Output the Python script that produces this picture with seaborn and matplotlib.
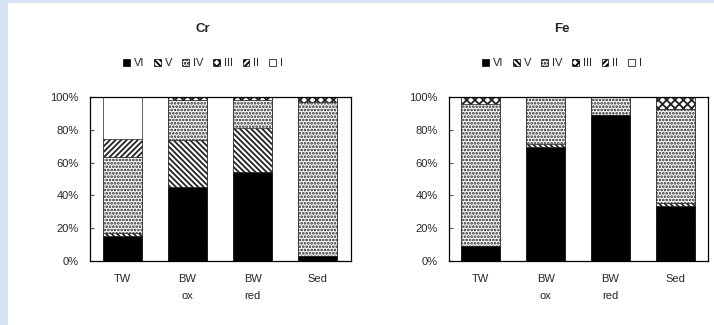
import numpy as np
import pandas as pd
import matplotlib
matplotlib.use("Agg")
import matplotlib.pyplot as plt
import seaborn as sns
from matplotlib.patches import Patch, Rectangle

# Sampling sites and oxidation states (stacked bottom -> top)
sites = ["TW", "BW\nox", "BW\nred", "Sed"]
states = ["VI", "V", "IV", "III", "II", "I"]
yticks = [0, 20, 40, 60, 80, 100]

# Chromium speciation, % of total
cr_VI = [15.4, 45.3, 54.5, 3.2]
cr_V = [1.6, 28.5, 26.4, 0.0]
cr_IV = [46.6, 24.4, 17.3, 93.8]
cr_III = [0.0, 1.8, 1.8, 3.0]
cr_II = [10.8, 0.0, 0.0, 0.0]
cr_I = [25.6, 0.0, 0.0, 0.0]

# Iron speciation, % of total
fe_VI = [9.3, 69.7, 89.0, 33.8]
fe_V = [0.0, 1.8, 0.0, 1.4]
fe_IV = [86.4, 28.5, 11.0, 57.3]
fe_III = [4.3, 0.0, 0.0, 7.5]
fe_II = [0.0, 0.0, 0.0, 0.0]
fe_I = [0.0, 0.0, 0.0, 0.0]

panels = [
    ("Cr", [cr_VI, cr_V, cr_IV, cr_III, cr_II, cr_I]),
    ("Fe", [fe_VI, fe_V, fe_IV, fe_III, fe_II, fe_I]),
]

# fill colour and hatch for each oxidation state
style = {
    "VI": ("black", ""),
    "V": ("white", "\\\\\\\\\\\\"),
    "IV": ("white", "....."),
    "III": ("white", "xxxx"),
    "II": ("white", "//////"),
    "I": ("white", ""),
}

sns.set_style("white")
plt.rcParams["font.family"] = ["Liberation Sans", "DejaVu Sans"]
plt.rcParams["hatch.color"] = "black"
plt.rcParams["hatch.linewidth"] = 1.3

fig = plt.figure(figsize=(7.14, 3.25), dpi=100)
fig.patch.set_facecolor("white")
# pale blue border strips
fig.patches.append(Rectangle((0, 0), 8 / 714, 1, transform=fig.transFigure,
                             facecolor="#d5e3f3", edgecolor="none", zorder=-5))
fig.patches.append(Rectangle((0, 1 - 3 / 325), 1, 3 / 325, transform=fig.transFigure,
                             facecolor="#d5e3f3", edgecolor="none", zorder=-5))

ax_rects = [
    [89.5 / 714, 64 / 325, 261 / 714, 164 / 325],
    [448.5 / 714, 64 / 325, 259 / 714, 164 / 325],
]
title_x = [203 / 714, 562 / 714]

for (name, layers), rect, tx in zip(panels, ax_rects, title_x):
    ax = fig.add_axes(rect)
    df = pd.DataFrame({s: v for s, v in zip(states, layers)}, index=sites)
    cum = df.cumsum(axis=1)
    # draw cumulative totals from the top layer down so each covers the one above
    for st in states[::-1]:
        fc, hatch = style[st]
        n0 = len(ax.patches)
        d = pd.DataFrame({"site": sites, "value": cum[st].values})
        sns.barplot(data=d, x="site", y="value", order=sites, color=fc,
                    saturation=1, width=0.6, errorbar=None,
                    edgecolor="#222222", linewidth=0.5, ax=ax)
        for p in ax.patches[n0:]:
            p.set_hatch(hatch)
            p.set_facecolor(fc)

    ax.set_xlim(-0.5, 3.5)
    ax.set_ylim(0, 100)
    ax.set_yticks(yticks)
    ax.set_yticklabels([f"{v}%" for v in yticks])
    ax.set_xlabel("")
    ax.set_ylabel("")
    ax.tick_params(axis="y", direction="in", length=3, width=0.8, color="#555555",
                   pad=8, labelsize=8, left=True)
    ax.tick_params(axis="x", length=0, pad=9, labelsize=8)
    for lab in ax.get_xticklabels():
        lab.set_linespacing(1.95)
    for sp in ax.spines.values():
        sp.set_visible(True)
        sp.set_color("black")
        sp.set_linewidth(0.9)

    fig.text(tx, 1 - 29 / 325, name, ha="center", va="center",
             fontsize=9.5, fontweight="bold")
    handles = [Patch(facecolor=style[s][0], hatch=style[s][1], edgecolor="black",
                     linewidth=0.5, label=s) for s in states]
    fig.legend(handles=handles, loc="center", bbox_to_anchor=(tx, 1 - 63 / 325),
               ncol=6, frameon=False, fontsize=8, handlelength=0.6,
               handleheight=0.6, handletextpad=0.35, columnspacing=0.9,
               borderpad=0, borderaxespad=0)

fig.savefig("out.png", dpi=100)
